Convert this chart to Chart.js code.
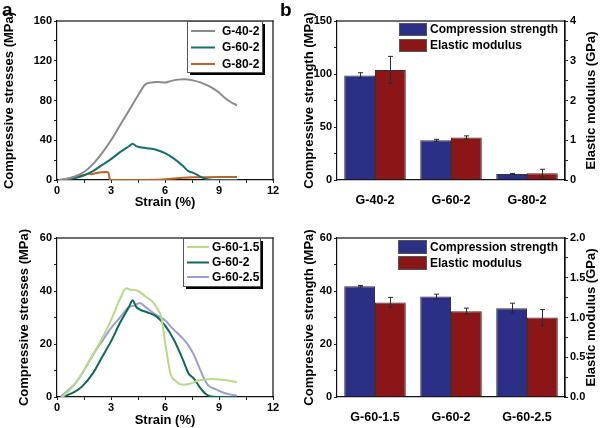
<!DOCTYPE html>
<html>
<head>
<meta charset="utf-8">
<script src="https://cdn.jsdelivr.net/npm/chart.js@4.4.1/dist/chart.umd.min.js"></script>
<style>
  html, body { margin: 0; padding: 0; background: #fff; }
  #wrap { position: relative; width: 600px; height: 428px; overflow: hidden; }
  canvas { position: absolute; }
  .lbl { position: absolute; font-family: "Liberation Sans", Arial, sans-serif; font-weight: bold; font-size: 19px; color: #000; z-index: 5; line-height: 1; }
</style>
</head>
<body>
<div id="wrap">
  <canvas id="c1" width="300" height="214" style="left:0;top:0"></canvas>
  <canvas id="c2" width="300" height="214" style="left:300px;top:0"></canvas>
  <canvas id="c3" width="300" height="214" style="left:0;top:214px"></canvas>
  <canvas id="c4" width="300" height="214" style="left:300px;top:214px"></canvas>
  <div class="lbl" style="left:2px;top:0px">a</div>
  <div class="lbl" style="left:280px;top:0px">b</div>
</div>
<script>
// ---------- data ----------
const strainTicks = [0, 1.5, 3, 4.5, 6, 7.5, 9, 10.5, 12];
const strainLabels = [0, 3, 6, 9, 12];
const stressTicksTop = [0, 20, 40, 60, 80, 100, 120, 140, 160];
const stressLabelsTop = [0, 40, 80, 120, 160];
const stressTicksBottom = [0, 10, 20, 30, 40, 50, 60];
const stressLabelsBottom = [0, 20, 40, 60];

const g40Strain = [0.1, 0.5, 1.0, 1.5, 2.0, 2.5, 3.0, 3.5, 4.0, 4.5, 4.9, 5.2, 5.6, 6.0, 6.3, 6.7, 7.1, 7.5, 8.0, 8.5, 9.0, 9.3, 9.6, 10.0];
const g40Stress = [0, 1, 3.5, 8, 16, 27, 40, 55, 70, 85, 96, 98, 98.5, 98, 99.5, 101, 101.5, 100.5, 98, 94, 88, 83, 79, 75];

const g60Strain = [0.3, 1.0, 1.4, 2.0, 2.5, 3.0, 3.5, 4.0, 4.2, 4.4, 4.6, 5.0, 5.5, 6.0, 6.5, 7.0, 7.3, 7.6, 7.9, 8.2, 8.5, 9.0, 10.0];
const g60Stress = [0, 2, 4, 9, 15, 21, 28, 34, 36.5, 34, 33, 32, 30.5, 27, 21.5, 14, 9, 7, 4, 1.5, 0.3, 0, 0];

const g80Strain = [0.1, 0.5, 1.0, 1.5, 1.8, 1.9, 2.2, 2.5, 2.75, 2.85, 2.95, 3.5, 4.5, 5.5, 6.0, 6.5, 7.0, 7.5, 8.0, 9.0, 10.0];
const g80Stress = [0, 1, 3, 5, 6.5, 5.8, 7, 7.8, 8, 7.5, 0, 0, 0, 0.2, 0.8, 1.5, 2.2, 2.7, 2.8, 3, 3];

const g6015Strain = [0.3, 0.6, 1.0, 1.5, 2.0, 2.5, 3.0, 3.5, 3.85, 4.1, 4.5, 4.9, 5.3, 5.6, 5.8, 6.0, 6.3, 6.6, 7.0, 7.4, 7.85, 8.6, 9.2, 10.0];
const g6015Stress = [0, 2, 5, 10, 16, 22, 29, 37, 41, 40.5, 40, 38, 36, 33, 30, 21, 9, 6, 4.6, 5, 6.2, 6.8, 6.5, 5.7];

const g6025Strain = [0.2, 0.6, 1.0, 1.5, 2.0, 2.5, 3.0, 3.5, 4.0, 4.3, 4.6, 4.9, 5.4, 6.0, 6.4, 7.0, 7.3, 7.6, 7.85, 8.1, 8.4, 8.8, 9.15, 9.6, 10.0];
const g6025Stress = [0, 2.5, 5, 10, 16, 21, 26, 30, 34, 34.5, 35.5, 34, 31.4, 29, 26, 22, 19.5, 16, 12, 8, 4.4, 3, 1.9, 1, 0.5];

const groupsTop = ['G-40-2', 'G-60-2', 'G-80-2'];
const strengthTop = [98.7, 37.4, 5.7];
const strengthErrTop = [2.5, 1.0, 0.5];
const modulusTop = [2.77, 1.07, 0.17];
const modulusErrTop = [0.34, 0.04, 0.1];

const groupsBottom = ['G-60-1.5', 'G-60-2', 'G-60-2.5'];
const strengthBottom = [41.8, 37.9, 33.5];
const strengthErrBottom = [0.3, 0.9, 1.9];
const modulusBottom = [1.19, 1.08, 1.0];
const modulusErrBottom = [0.063, 0.038, 0.1];

const strengthTicksTop = [0, 25, 50, 75, 100, 125, 150];
const strengthLabelsTop = [0, 50, 100, 150];
const modulusTicksTop = [0, 0.5, 1, 1.5, 2, 2.5, 3, 3.5, 4];
const modulusLabelsTop = [0, 1, 2, 3, 4];
const strengthTicksBottom = [0, 10, 20, 30, 40, 50, 60];
const strengthLabelsBottom = [0, 20, 40, 60];
const modulusTicksBottom = [0, 0.25, 0.5, 0.75, 1, 1.25, 1.5, 1.75, 2];
const modulusLabelsBottom = [0, 0.5, 1, 1.5, 2];

// ---------- helpers ----------
const FONT = '"Liberation Sans", Arial, sans-serif';
Chart.defaults.font.family = FONT;
Chart.defaults.color = '#000';
const zip = (xs, ys) => xs.map((x, i) => ({ x: x, y: ys[i] }));
const setTicks = arr => s => { s.ticks = arr.map(v => ({ value: v })); };
const labelIf = (arr, fmt) => v => arr.some(a => Math.abs(a - v) < 1e-9) ? (fmt ? fmt(v) : String(v)) : '';
const tickFont = { size: 11, weight: 'bold' };
const titleFont = { size: 13, weight: 'bold' };
const gridTicks = { display: true, drawOnChartArea: false, drawTicks: true, tickLength: 3, color: '#222', tickWidth: 1 };
const axisBorder = { display: true, color: '#111', width: 1.2 };

// closes the plot box on the top and right sides
const framePlugin = {
  id: 'plotBox',
  afterDraw(chart) {
    const a = chart.chartArea, ctx = chart.ctx;
    const l = Math.round(a.left), t = Math.round(a.top), r = Math.round(a.right), b = Math.round(a.bottom);
    ctx.save();
    ctx.fillStyle = '#111';
    ctx.fillRect(l - 0.6, t - 0.6, r - l + 1.2, 1.2);
    ctx.fillRect(r - 0.6, t - 0.6, 1.2, b - t + 1.2);
    ctx.restore();
  }
};

const lineLegendPlugin = {
  id: 'lineLegend',
  afterDraw(chart, args, o) {
    if (!o || !o.box) return;
    const ctx = chart.ctx, b = o.box;
    ctx.save();
    ctx.fillStyle = '#000';
    ctx.fillRect(b.x + 3, b.y + 3, b.w, b.h);
    ctx.fillStyle = '#fff';
    ctx.fillRect(b.x, b.y, b.w, b.h);
    ctx.strokeStyle = '#555';
    ctx.lineWidth = 1;
    ctx.strokeRect(b.x + 0.5, b.y + 0.5, b.w, b.h);
    ctx.font = 'bold 12px ' + FONT;
    ctx.textBaseline = 'middle';
    chart.data.datasets.forEach((ds, i) => {
      const y = o.rows[i];
      ctx.strokeStyle = ds.borderColor;
      ctx.lineWidth = 2;
      ctx.beginPath();
      ctx.moveTo(o.lineX1, y);
      ctx.lineTo(o.lineX2, y);
      ctx.stroke();
      ctx.fillStyle = '#000';
      ctx.fillText(ds.label, o.textX, y + 0.5);
    });
    ctx.restore();
  }
};

const barLegendPlugin = {
  id: 'barLegend',
  afterDraw(chart, args, o) {
    if (!o || !o.rows) return;
    const ctx = chart.ctx;
    ctx.save();
    ctx.font = 'bold 12px ' + FONT;
    ctx.textBaseline = 'middle';
    chart.data.datasets.forEach((ds, i) => {
      const r = o.rows[i];
      ctx.fillStyle = ds.backgroundColor;
      ctx.fillRect(o.x, r, o.w, o.h);
      ctx.strokeStyle = '#555';
      ctx.lineWidth = 1;
      ctx.strokeRect(o.x + 0.5, r + 0.5, o.w - 1, o.h - 1);
      ctx.fillStyle = '#000';
      ctx.fillText(ds.label, o.textX, r + o.h / 2 + 0.5);
    });
    ctx.restore();
  }
};

const errorBarPlugin = {
  id: 'errorBars',
  afterDatasetsDraw(chart) {
    const ctx = chart.ctx;
    ctx.save();
    ctx.strokeStyle = '#2a2a2a';
    ctx.lineWidth = 1;
    chart.data.datasets.forEach((ds, i) => {
      if (!ds.errors) return;
      const meta = chart.getDatasetMeta(i);
      const ys = chart.scales[ds.yAxisID];
      meta.data.forEach((bar, j) => {
        const v = ds.data[j], e = ds.errors[j];
        const x = Math.round(bar.x) + 0.5;
        const yt = ys.getPixelForValue(v + e), yb = ys.getPixelForValue(v - e);
        ctx.beginPath();
        ctx.moveTo(x, yt); ctx.lineTo(x, yb);
        ctx.moveTo(x - 2.5, yt); ctx.lineTo(x + 2.5, yt);
        ctx.moveTo(x - 2.5, yb); ctx.lineTo(x + 2.5, yb);
        ctx.stroke();
      });
    });
    ctx.restore();
  }
};

const rightTitlePlugin = {
  id: 'rightTitle',
  afterDraw(chart, args, o) {
    if (!o || !o.text) return;
    const ctx = chart.ctx, a = chart.chartArea, s = chart.scales.y1;
    ctx.save();
    ctx.translate(s.right - o.offset, (a.top + a.bottom) / 2);
    ctx.rotate(-Math.PI / 2);
    ctx.font = 'bold 13px ' + FONT;
    ctx.fillStyle = '#000';
    ctx.textAlign = 'center';
    ctx.textBaseline = 'middle';
    ctx.fillText(o.text, 0, 0);
    ctx.restore();
  }
};

function lineChart(id, datasets, opt) {
  return new Chart(document.getElementById(id), {
    type: 'line',
    data: { datasets: datasets },
    plugins: [framePlugin, lineLegendPlugin],
    options: {
      responsive: false, animation: false,
      layout: { padding: opt.padding },
      elements: { point: { radius: 0 }, line: { borderWidth: 2, cubicInterpolationMode: 'monotone' } },
      plugins: { legend: { display: false }, tooltip: { enabled: false }, lineLegend: opt.legend },
      scales: {
        x: {
          type: 'linear', min: 0, max: 12,
          afterBuildTicks: setTicks(strainTicks),
          afterFit: s => { s.height = opt.xHeight; },
          grid: gridTicks, border: axisBorder,
          ticks: { autoSkip: false, maxRotation: 0, padding: 1, font: tickFont, callback: labelIf(strainLabels) },
          title: { display: true, text: 'Strain (%)', font: titleFont, padding: { top: 0, bottom: opt.xTitlePad } }
        },
        y: {
          type: 'linear', min: 0, max: opt.yMax,
          afterBuildTicks: setTicks(opt.yTicks),
          afterFit: s => { s.width = 57; },
          grid: gridTicks, border: axisBorder,
          ticks: { autoSkip: false, padding: 2, font: tickFont, callback: labelIf(opt.yLabels) },
          title: { display: true, text: 'Compressive stresses (MPa)', font: titleFont, padding: { top: opt.yTitlePad, bottom: 0 } }
        }
      }
    }
  });
}

function barChart(id, labels, str, strErr, mod, modErr, opt) {
  return new Chart(document.getElementById(id), {
    type: 'bar',
    data: {
      labels: labels,
      datasets: [
        { label: 'Compression strength', data: str, errors: strErr, yAxisID: 'y', backgroundColor: '#2c2f86', borderColor: '#33334a', borderWidth: 1 },
        { label: 'Elastic modulus', data: mod, errors: modErr, yAxisID: 'y1', backgroundColor: '#8b1618', borderColor: '#4a2a2a', borderWidth: 1 }
      ]
    },
    plugins: [framePlugin, errorBarPlugin, barLegendPlugin, rightTitlePlugin],
    options: {
      responsive: false, animation: false,
      layout: { padding: opt.padding },
      datasets: { bar: { categoryPercentage: 0.81, barPercentage: 1.0 } },
      plugins: { legend: { display: false }, tooltip: { enabled: false }, barLegend: opt.legend, rightTitle: { text: 'Elastic modulus (GPa)', offset: 8.5 } },
      scales: {
        x: {
          afterFit: s => { s.height = opt.xHeight; },
          grid: { display: false }, border: axisBorder,
          ticks: { padding: 5, font: { size: 12.5, weight: 'bold' } }
        },
        y: {
          type: 'linear', position: 'left', min: 0, max: opt.yMax,
          afterBuildTicks: setTicks(opt.yTicks),
          afterFit: s => { s.width = 37; },
          grid: gridTicks, border: axisBorder,
          ticks: { autoSkip: false, padding: 2, font: tickFont, callback: labelIf(opt.yLabels) },
          title: { display: true, text: 'Compressive strength (MPa)', font: titleFont, padding: { top: 2, bottom: 0 } }
        },
        y1: {
          type: 'linear', position: 'right', min: 0, max: opt.y1Max,
          afterBuildTicks: setTicks(opt.y1Ticks),
          afterFit: s => { s.width = 35; },
          grid: gridTicks, border: axisBorder,
          ticks: { autoSkip: false, padding: 2, font: tickFont, callback: labelIf(opt.y1Labels, opt.y1Fmt) }
        }
      }
    }
  });
}

// ---------- charts ----------
lineChart('c1', [
  { label: 'G-40-2', data: zip(g40Strain, g40Stress), borderColor: '#8a8a8a' },
  { label: 'G-60-2', data: zip(g60Strain, g60Stress), borderColor: '#13706a' },
  { label: 'G-80-2', data: zip(g80Strain, g80Stress), borderColor: '#c0631e' }
], {
  padding: { left: 0, right: 27, top: 21, bottom: 0 }, xHeight: 34, xTitlePad: 4, yTitlePad: 2,
  yMax: 160, yTicks: stressTicksTop, yLabels: stressLabelsTop,
  legend: { box: { x: 187, y: 21, w: 75, h: 51 }, rows: [31, 47.5, 64], lineX1: 191, lineX2: 215, textX: 222 }
});

barChart('c2', groupsTop, strengthTop, strengthErrTop, modulusTop, modulusErrTop, {
  padding: { left: 0, right: 0, top: 21, bottom: 0 }, xHeight: 34,
  yMax: 150, yTicks: strengthTicksTop, yLabels: strengthLabelsTop,
  y1Max: 4, y1Ticks: modulusTicksTop, y1Labels: modulusLabelsTop, y1Fmt: v => String(v),
  legend: { x: 99, w: 28, h: 13, rows: [23, 39], textX: 130 }
});

lineChart('c3', [
  { label: 'G-60-1.5', data: zip(g6015Strain, g6015Stress), borderColor: '#b6da86' },
  { label: 'G-60-2', data: zip(g60Strain, g60Stress), borderColor: '#0c6a58' },
  { label: 'G-60-2.5', data: zip(g6025Strain, g6025Stress), borderColor: '#9a9ed0' }
], {
  padding: { left: 0, right: 27, top: 24, bottom: 0 }, xHeight: 31, xTitlePad: 0, yTitlePad: 17,
  yMax: 60, yTicks: stressTicksBottom, yLabels: stressLabelsBottom,
  legend: { box: { x: 183, y: 24, w: 77, h: 48 }, rows: [33, 48.5, 63], lineX1: 187, lineX2: 209, textX: 212 }
});

barChart('c4', groupsBottom, strengthBottom, strengthErrBottom, modulusBottom, modulusErrBottom, {
  padding: { left: 0, right: 0, top: 24, bottom: 0 }, xHeight: 31,
  yMax: 60, yTicks: strengthTicksBottom, yLabels: strengthLabelsBottom,
  y1Max: 2, y1Ticks: modulusTicksBottom, y1Labels: modulusLabelsBottom, y1Fmt: v => v.toFixed(1),
  legend: { x: 98, w: 29, h: 14, rows: [26, 42], textX: 130 }
});
</script>
</body>
</html>
